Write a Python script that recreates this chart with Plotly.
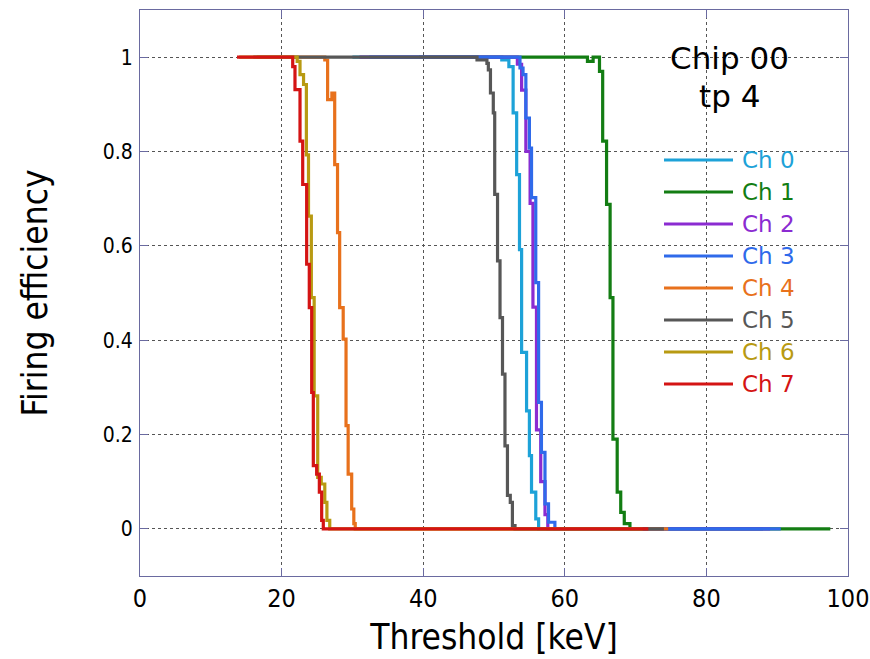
import plotly.graph_objects as go

# ---- data (threshold in keV, firing efficiency), step style ----
ch0_x = [30.0, 51.1, 52.1, 52.7, 53.2, 53.6, 53.9, 54.6, 55.0, 55.3, 55.9, 56.3, 88.0]
ch0_y = [1.0, 0.994, 0.980, 0.882, 0.751, 0.592, 0.374, 0.250, 0.155, 0.078, 0.021, 0.0, 0.0]

ch1_x = [39.4, 63.2, 64.0, 64.9, 65.35, 65.9, 66.4, 66.8, 67.4, 67.9, 68.4, 69.2, 97.5]
ch1_y = [1.0, 0.991, 1.0, 0.970, 0.822, 0.688, 0.490, 0.190, 0.078, 0.035, 0.011, 0.0, 0.0]

ch2_x = [31.0, 53.3, 53.9, 54.5, 55.1, 55.5, 56.0, 56.6, 57.2, 57.6, 89.0]
ch2_y = [1.0, 0.985, 0.930, 0.800, 0.690, 0.470, 0.210, 0.100, 0.030, 0.0, 0.0]

ch3_x = [32.4, 53.67, 54.1, 54.5, 55.0, 55.3, 55.9, 56.3, 56.7, 57.2, 57.7, 58.6, 90.5]
ch3_y = [1.0, 0.977, 0.963, 0.871, 0.807, 0.702, 0.522, 0.268, 0.162, 0.053, 0.014, 0.0, 0.0]

ch4_x = [16.5, 26.1, 26.5, 27.1, 27.5, 27.9, 28.2, 28.7, 29.1, 29.4, 29.9, 30.2, 30.4, 74.6]
ch4_y = [1.0, 0.994, 0.910, 0.924, 0.772, 0.628, 0.469, 0.402, 0.219, 0.116, 0.042, 0.011, 0.0, 0.0]

ch5_x = [16.0, 47.6, 49.0, 49.2, 49.5, 49.9, 50.1, 50.5, 50.85, 51.2, 51.55, 51.9, 52.3, 52.6, 52.97, 74.0]
ch5_y = [1.0, 0.994, 0.987, 0.973, 0.924, 0.882, 0.709, 0.568, 0.448, 0.328, 0.176, 0.071, 0.056, 0.007, 0.0, 0.0]

ch6_x = [14.0, 22.2, 22.6, 23.1, 23.5, 23.8, 24.2, 24.6, 25.1, 25.6, 26.1, 26.4, 26.8, 71.0]
ch6_y = [1.0, 0.991, 0.963, 0.942, 0.793, 0.663, 0.490, 0.282, 0.109, 0.095, 0.056, 0.018, 0.0, 0.0]

ch7_x = [13.7, 21.57, 21.89, 22.60, 22.98, 23.54, 23.91, 24.25, 24.48, 24.95, 25.33, 25.66, 25.89, 71.8]
ch7_y = [1.0, 0.980, 0.931, 0.822, 0.730, 0.561, 0.469, 0.289, 0.134, 0.116, 0.078, 0.018, 0.0, 0.0]

names = ["Ch 0", "Ch 1", "Ch 2", "Ch 3", "Ch 4", "Ch 5", "Ch 6", "Ch 7"]
xs = [ch0_x, ch1_x, ch2_x, ch3_x, ch4_x, ch5_x, ch6_x, ch7_x]
ys = [ch0_y, ch1_y, ch2_y, ch3_y, ch4_y, ch5_y, ch6_y, ch7_y]
colors = ["#1da2d8", "#137d13", "#8b2bd1", "#2f6aea", "#e8711c", "#575757", "#b89a12", "#d41414"]

x_ticks = [0, 20, 40, 60, 80, 100]
y_ticks = [0, 0.2, 0.4, 0.6, 0.8, 1.0]
y_tick_text = ["0", "0.2", "0.4", "0.6", "0.8", "1"]

FONT = "DejaVu Sans Condensed, DejaVu Sans, sans-serif"
FRAME = "#6a6aa0"

fig = go.Figure()
for n, x, y, c in zip(names, xs, ys, colors):
    fig.add_trace(go.Scatter(x=x, y=y, mode="lines", line=dict(color=c, width=3.2, shape="hv"),
                             name=n, showlegend=False))

# manual legend (gnuplot-like), in paper coords
W, H = 870, 659
L, R, T, B = 140, 22, 10, 83
pw, ph = W - L - R, H - T - B
def px2paper(px, py):
    return (px - L) / pw, 1 - (py - T) / ph

leg_y = [160, 192, 224, 256, 288, 320, 352, 384]
for n, c, py in zip(names, colors, leg_y):
    x0, y0 = px2paper(664, py)
    x1, _ = px2paper(733, py)
    xt, _ = px2paper(740, py)
    fig.add_shape(type="line", xref="paper", yref="paper", x0=x0, x1=x1, y0=y0, y1=y0,
                  line=dict(color=c, width=3.2))
    fig.add_annotation(xref="paper", yref="paper", x=xt, y=y0, text=n, showarrow=False,
                       xanchor="left", yanchor="middle", font=dict(family="DejaVu Sans", size=23, color=c))

tx, ty = px2paper(729, 58)
fig.add_annotation(xref="paper", yref="paper", x=tx, y=ty, text="Chip 00", showarrow=False,
                   xanchor="center", yanchor="middle", font=dict(family="DejaVu Sans", size=31, color="black"))
tx, ty = px2paper(729, 96)
fig.add_annotation(xref="paper", yref="paper", x=tx, y=ty, text="tp 4", showarrow=False,
                   xanchor="center", yanchor="middle", font=dict(family="DejaVu Sans", size=31, color="black"))

fig.update_layout(
    width=W, height=H,
    margin=dict(l=L, r=R, t=T, b=B, autoexpand=False),
    paper_bgcolor="white", plot_bgcolor="white",
    font=dict(family=FONT, color="black"),
)
fig.update_xaxes(range=[0, 100], tickvals=x_ticks, ticktext=[str(v) for v in x_ticks],
                 showline=True, mirror="ticks", linecolor=FRAME, linewidth=1,
                 ticks="inside", ticklen=8, tickcolor=FRAME,
                 showgrid=True, gridcolor="#555555", griddash="dot", gridwidth=1,
                 zeroline=False, tickfont=dict(size=25, family=FONT),
                 title=dict(text="Threshold [keV]", font=dict(size=35, family=FONT), standoff=12))
fig.update_yaxes(range=[-0.1, 1.1], tickvals=y_ticks, ticktext=y_tick_text,
                 showline=True, mirror="ticks", linecolor=FRAME, linewidth=1,
                 ticks="inside", ticklen=8, tickcolor=FRAME,
                 showgrid=True, gridcolor="#555555", griddash="dot", gridwidth=1,
                 zeroline=False, tickfont=dict(size=21, family=FONT), ticklabelstandoff=2,
                 title=dict(text="Firing efficiency", font=dict(size=35, family=FONT), standoff=44))

fig.write_html("out.html")
